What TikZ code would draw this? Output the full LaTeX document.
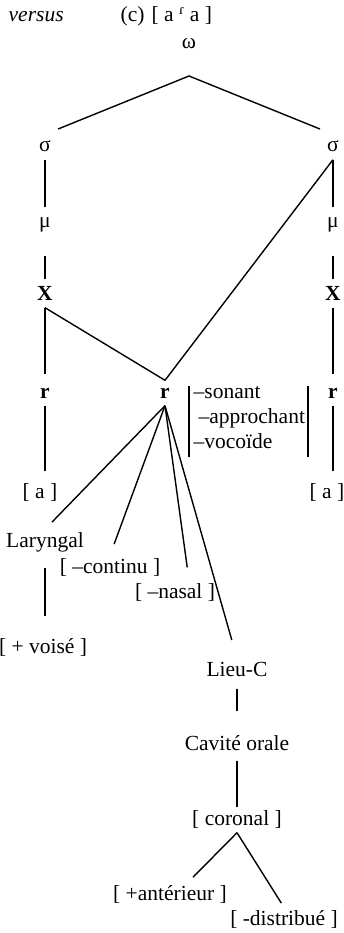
\documentclass[tikz,border=0pt]{standalone}
\usepackage{fontspec}
\setmainfont{Liberation Serif}
\begin{document}
\begin{tikzpicture}[x=1pt,y=-1pt,line width=1.4pt,
  lbl/.style={anchor=center,inner sep=3pt,text height=14pt,text depth=4pt,font=\fontsize{21.5}{24}\selectfont}]
\path[use as bounding box] (0,0) rectangle (344,933);
\node[lbl,anchor=west] (vs) at (5,17) {\itshape versus};
\node[lbl,anchor=west] (ex) at (117,17) {(c)\hspace{7pt}[ a \textsuperscript{ɾ} a ]};
\node[lbl] (w) at (189,44) {ω};
\coordinate (apex) at (189,76);
\node[lbl] (s1) at (45,147) {σ};
\node[lbl] (s2) at (333,147) {σ};
\node[lbl] (m1) at (45,223) {μ};
\node[lbl] (m2) at (333,223) {μ};
\node[lbl] (x1) at (45,295) {\textbf{X}};
\node[lbl] (x2) at (333,295) {\textbf{X}};
\node[lbl] (r1) at (45,393) {\textbf{r}};
\node[lbl] (r2) at (165,393) {\textbf{r}};
\node[lbl] (r3) at (333,393) {\textbf{r}};
\node[lbl,anchor=west] (f1) at (190,393) {–sonant};
\node[lbl,anchor=west] (f2) at (195,418) {–approchant};
\node[lbl,anchor=west] (f3) at (190,443) {–vocoïde};
\node[lbl] (a1) at (40,493) {[ a ]};
\node[lbl] (a2) at (327,493) {[ a ]};
\node[lbl] (lar) at (45,542) {Laryngal};
\node[lbl] (cont) at (110,568) {[ –continu ]};
\node[lbl] (nas) at (175,593) {[ –nasal ]};
\node[lbl] (voi) at (43,648) {[ + voisé ]};
\node[lbl] (lieu) at (237,671) {Lieu-C};
\node[lbl] (cav) at (237,745) {Cavité orale};
\node[lbl] (cor) at (237,820) {[ coronal ]};
\node[lbl] (ant) at (170,895) {[ +antérieur ]};
\node[lbl] (dis) at (284,920) {[ -distribué ]};
% prosodic tiers
\draw[shorten <=14pt,shorten >=14pt] (s1.north) -- (apex) -- (s2.north);
\draw[shorten >=3pt] (s1.south) -- (m1.north);
\draw[shorten >=3pt] (s2.south) -- (m2.north);
\draw[shorten <=20pt,shorten >=3pt] (m1.south) -- (x1.north);
\draw[shorten <=20pt,shorten >=3pt] (m2.south) -- (x2.north);
\draw[shorten >=6pt] (x1.south) -- (r1.north);
\draw[shorten >=6pt] (x2.south) -- (r3.north);
\draw (x1.south) -- (r2.north) -- (s2.south);
\draw[shorten >=9pt] (r1.south) -- (r1.south |- a1.north);
\draw[shorten >=9pt] (r3.south) -- (r3.south |- a2.north);
% features of the root
\draw (189,386) -- (189,457);
\draw (308,386) -- (308,457);
\draw[shorten >=10pt] (r2.south) -- (lar.north);
\draw[shorten >=12pt] (r2.south) -- (cont.north);
\draw[shorten >=13pt] (r2.south) -- ([xshift=14pt]nas.north);
\draw[shorten >=19pt] (r2.south) -- (lieu.north);
\draw[shorten <=13pt,shorten >=19pt] (lar.south) -- (lar.south |- voi.north);
\draw[shorten <=5pt,shorten >=21pt] (lieu.south) -- (cav.north);
\draw[shorten <=3pt] (cav.south) -- (cor.north);
\draw[shorten >=7pt] (cor.south) -- ([xshift=18pt]ant.north);
\draw[shorten >=5pt] (cor.south) -- (dis.north);
\end{tikzpicture}
\end{document}
